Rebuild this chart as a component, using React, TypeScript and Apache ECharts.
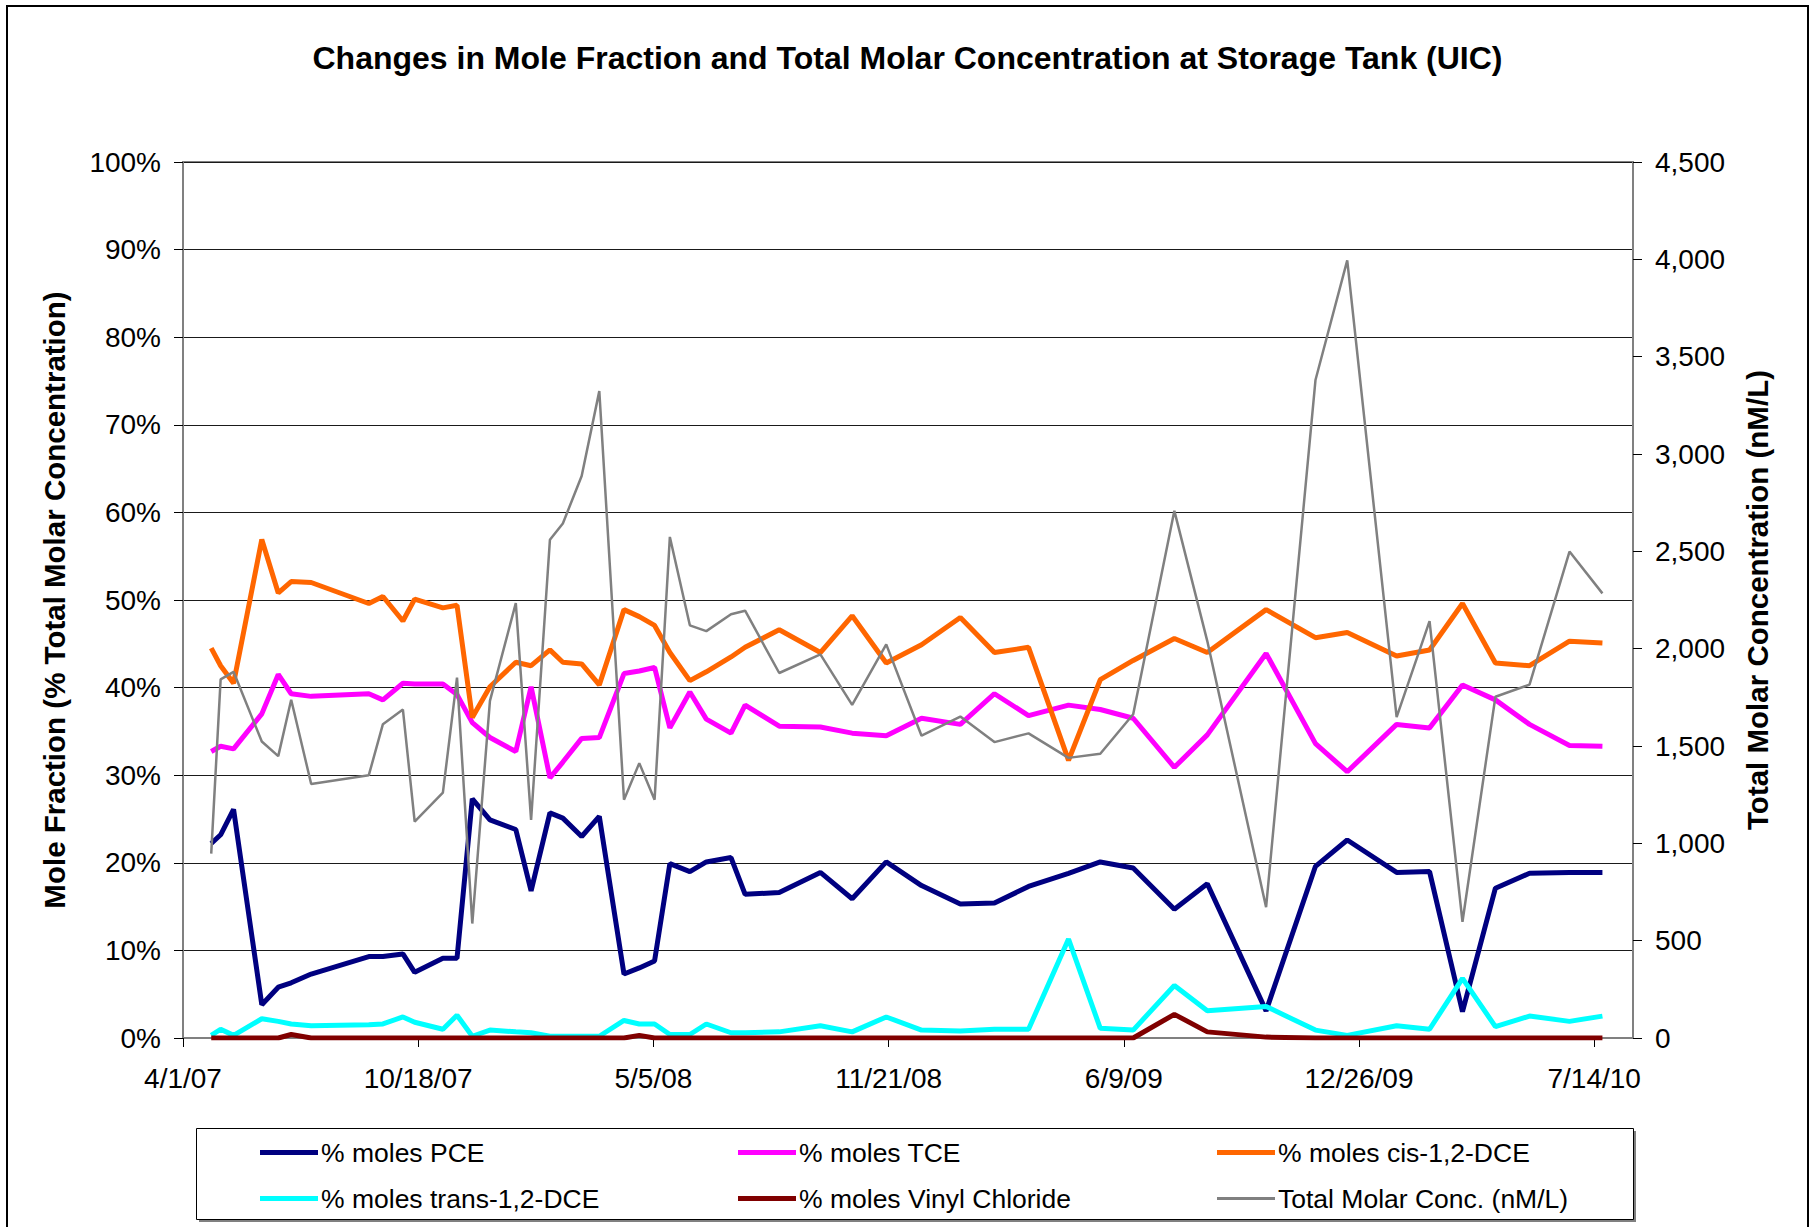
import React, { useEffect, useRef } from "react";
import * as echarts from "echarts";

// Sampling dates (M/D/YY on the axis)
const sampleDates = [
  "2007-04-25", "2007-05-03", "2007-05-14", "2007-06-07", "2007-06-21", "2007-07-02", "2007-07-19",
  "2007-09-06", "2007-09-18", "2007-10-05", "2007-10-15", "2007-11-08", "2007-11-20", "2007-12-03",
  "2007-12-18", "2008-01-09", "2008-01-22", "2008-02-07", "2008-02-18", "2008-03-05", "2008-03-20",
  "2008-04-10", "2008-04-23", "2008-05-06", "2008-05-19", "2008-06-05", "2008-06-19", "2008-07-10",
  "2008-07-22", "2008-08-20", "2008-09-24", "2008-10-21", "2008-11-19", "2008-12-19", "2009-01-21",
  "2009-02-19", "2009-03-20", "2009-04-23", "2009-05-20", "2009-06-17", "2009-07-22", "2009-08-19",
  "2009-10-08", "2009-11-19", "2009-12-16", "2010-01-27", "2010-02-24", "2010-03-24", "2010-04-21",
  "2010-05-20", "2010-06-23", "2010-07-21",
];

// % of total molar concentration
const pcePct = [
  22.2, 23.2, 26.1, 3.8, 5.8, 6.3, 7.3, 9.3, 9.3, 9.6, 7.5, 9.1, 9.1, 27.3, 24.9, 23.8, 16.8, 25.7,
  25.1, 23.0, 25.3, 7.3, 8.0, 8.8, 19.9, 19.0, 20.1, 20.6, 16.4, 16.6, 18.9, 15.9, 20.1, 17.4, 15.3,
  15.4, 17.3, 18.8, 20.1, 19.4, 14.7, 17.6, 3.1, 19.6, 22.6, 18.9, 19.0, 3.0, 17.1, 18.8, 18.9, 18.9,
];
const tcePct = [
  32.7, 33.3, 33.0, 37.0, 41.5, 39.3, 39.0, 39.3, 38.6, 40.5, 40.4, 40.4, 39.2, 36.0, 34.3, 32.7, 40.1,
  29.7, 31.5, 34.2, 34.3, 41.6, 41.9, 42.3, 35.4, 39.5, 36.4, 34.8, 38.0, 35.6, 35.5, 34.8, 34.5, 36.5,
  35.8, 39.3, 36.8, 38.0, 37.5, 36.5, 30.9, 34.6, 43.9, 33.6, 30.4, 35.8, 35.4, 40.3, 38.6, 35.8, 33.4,
  33.3,
];
const cisPct = [
  44.5, 42.5, 40.5, 56.9, 50.8, 52.1, 52.0, 49.6, 50.4, 47.6, 50.1, 49.1, 49.4, 36.6, 40.1, 42.9, 42.5,
  44.3, 42.9, 42.7, 40.3, 48.9, 48.1, 47.1, 44.0, 40.8, 41.8, 43.5, 44.6, 46.6, 44.0, 48.2, 42.8, 44.9,
  48.0, 44.0, 44.6, 31.7, 40.9, 43.1, 45.6, 44.0, 48.9, 45.7, 46.3, 43.6, 44.3, 49.6, 42.8, 42.5, 45.3,
  45.1,
];
const transPct = [
  0.3, 1.0, 0.3, 2.2, 1.9, 1.6, 1.4, 1.5, 1.6, 2.4, 1.8, 1.0, 2.6, 0.2, 0.9, 0.7, 0.6, 0.2, 0.2, 0.2,
  0.2, 2.0, 1.6, 1.6, 0.4, 0.4, 1.6, 0.6, 0.6, 0.7, 1.4, 0.7, 2.4, 0.9, 0.8, 1.0, 1.0, 11.3, 1.1, 0.9,
  6.0, 3.1, 3.6, 0.9, 0.3, 1.4, 1.0, 6.8, 1.3, 2.5, 1.9, 2.5,
];
const vinylPct = [
  0, 0, 0, 0, 0, 0.4, 0, 0, 0, 0, 0, 0, 0, 0, 0, 0, 0, 0, 0, 0, 0, 0, 0.3, 0, 0, 0, 0, 0, 0, 0, 0, 0,
  0, 0, 0, 0, 0, 0, 0, 0, 2.7, 0.7, 0.1, 0, 0, 0, 0, 0, 0, 0, 0, 0,
];
// Total molar concentration (nM/L), right axis
const totalConc = [
  947, 1842, 1881, 1523, 1448, 1738, 1305, 1350, 1612, 1687, 1111, 1260, 1851, 588, 1732, 2234, 1120,
  2559, 2643, 2887, 3323, 1224, 1412, 1224, 2574, 2120, 2090, 2177, 2195, 1875, 1971, 1711, 2022, 1553,
  1651, 1520, 1565, 1439, 1460, 1663, 2708, 2039, 672, 3380, 3995, 1648, 2141, 597, 1753, 1815, 2499,
  2284,
];

const seriesNames = [
  "% moles PCE",
  "% moles TCE",
  "% moles cis-1,2-DCE",
  "% moles trans-1,2-DCE",
  "% moles Vinyl Chloride",
  "Total Molar Conc. (nM/L)",
];
const seriesColors = ["#000080", "#FF00FF", "#FF6600", "#00FFFF", "#800000", "#808080"];

const AXIS_START = "2007-04-01";
const AXIS_END_DAYS = 1233;
const AXIS_STEP_DAYS = 200;

const DAY_MS = 86400000;
const parseUTC = (s: string) => {
  const [y, m, d] = s.split("-").map(Number);
  return Date.UTC(y, m - 1, d);
};
const BASE = parseUTC(AXIS_START);
const toDay = (s: string) => Math.round((parseUTC(s) - BASE) / DAY_MS);
const dayLabel = (v: number) => {
  const t = new Date(BASE + v * DAY_MS);
  return `${t.getUTCMonth() + 1}/${t.getUTCDate()}/${String(t.getUTCFullYear()).slice(2)}`;
};

const FONT = "'Liberation Sans', Arial, sans-serif";

export default function App() {
  const ref = useRef<HTMLDivElement>(null);

  useEffect(() => {
    document.body.style.margin = "0";
    if (!ref.current) return;
    const chart = echarts.init(ref.current, null, { renderer: "svg" });
    const days = sampleDates.map(toDay);
    const pair = (vals: number[]) => days.map((d, i) => [d, vals[i]]);
    const allValues = [pcePct, tcePct, cisPct, transPct, vinylPct, totalConc];

    const series = allValues.map((vals, i) => ({
      name: seriesNames[i],
      type: "line",
      yAxisIndex: i === 5 ? 1 : 0,
      data: pair(vals),
      showSymbol: false,
      symbol: "none",
      lineStyle: { color: seriesColors[i], width: i === 5 ? 2.5 : 5 },
      itemStyle: { color: seriesColors[i] },
      z: 2 + i,
    }));

    const legendPos = [
      [260, 1139],
      [738, 1139],
      [1217, 1139],
      [260, 1185],
      [738, 1185],
      [1217, 1185],
    ];
    const legends = seriesNames.map((n, i) => ({
      data: [n],
      left: legendPos[i][0],
      top: legendPos[i][1],
      padding: 0,
      icon: "rect",
      itemWidth: 58,
      itemHeight: i === 5 ? 3 : 5,
      textStyle: { fontFamily: FONT, fontSize: 26.5, color: "#000", padding: [0, 0, 0, -2] },
      selectedMode: false,
      z: 10,
    }));

    chart.setOption({
      animation: false,
      backgroundColor: "#fff",
      title: {
        text: "Changes in Mole Fraction and Total Molar Concentration at Storage Tank (UIC)",
        left: "center",
        top: 37,
        textStyle: { fontFamily: FONT, fontSize: 32, fontWeight: "bold", color: "#000" },
      },
      legend: legends,
      grid: {
        left: 183,
        right: 182,
        top: 162,
        bottom: 189,
        show: true,
        borderColor: "#808080",
        borderWidth: 2,
        backgroundColor: "transparent",
      },
      xAxis: {
        type: "value",
        min: 0,
        max: AXIS_END_DAYS,
        interval: AXIS_STEP_DAYS,
        axisLine: { show: true, lineStyle: { color: "#808080", width: 2 } },
        axisTick: { show: true, length: 9, lineStyle: { color: "#000", width: 1 } },
        axisLabel: {
          fontFamily: FONT,
          fontSize: 28,
          color: "#000",
          margin: 26,
          showMaxLabel: false,
          formatter: (v: number) => dayLabel(v),
        },
        splitLine: { show: false },
      },
      yAxis: [
        {
          type: "value",
          min: 0,
          max: 100,
          interval: 10,
          axisLine: { show: true, lineStyle: { color: "#808080", width: 2 } },
          axisTick: { show: true, length: 9, lineStyle: { color: "#000", width: 1 } },
          axisLabel: { fontFamily: FONT, fontSize: 28, color: "#000", margin: 22, formatter: "{value}%" },
          splitLine: { show: true, lineStyle: { color: "#1a1a1a", width: 1 } },
        },
        {
          type: "value",
          min: 0,
          max: 4500,
          interval: 500,
          position: "right",
          axisLine: { show: true, lineStyle: { color: "#808080", width: 2 } },
          axisTick: { show: true, length: 9, lineStyle: { color: "#000", width: 1 } },
          axisLabel: {
            fontFamily: FONT,
            fontSize: 28,
            color: "#000",
            margin: 22,
            formatter: (v: number) => v.toLocaleString("en-US"),
          },
          splitLine: { show: false },
        },
      ],
      graphic: [
        {
          type: "rect",
          shape: { x: 7, y: 6, width: 1801, height: 1240 },
          style: { fill: "none", stroke: "#000", lineWidth: 2 },
          silent: true,
          z: 0,
        },
        {
          type: "rect",
          shape: { x: 199, y: 1131, width: 1437, height: 91 },
          style: { fill: "#808080" },
          silent: true,
          z: 0,
        },
        {
          type: "rect",
          shape: { x: 196.5, y: 1128.5, width: 1437, height: 91 },
          style: { fill: "#fff", stroke: "#000", lineWidth: 1 },
          silent: true,
          z: 1,
        },
        {
          type: "text",
          x: 54,
          y: 600,
          rotation: Math.PI / 2,
          style: {
            text: "Mole Fraction (% Total Molar Concentration)",
            fontFamily: FONT,
            fontSize: 29.5,
            fontWeight: "bold",
            fill: "#000",
            textAlign: "center",
            textVerticalAlign: "middle",
          },
          z: 5,
        },
        {
          type: "text",
          x: 1757,
          y: 600,
          rotation: Math.PI / 2,
          style: {
            text: "Total Molar Concentration (nM/L)",
            fontFamily: FONT,
            fontSize: 29.5,
            fontWeight: "bold",
            fill: "#000",
            textAlign: "center",
            textVerticalAlign: "middle",
          },
          z: 5,
        },
      ],
      series,
    });

    return () => chart.dispose();
  }, []);

  return <div ref={ref} style={{ width: 1815, height: 1227, background: "#fff" }} />;
}
